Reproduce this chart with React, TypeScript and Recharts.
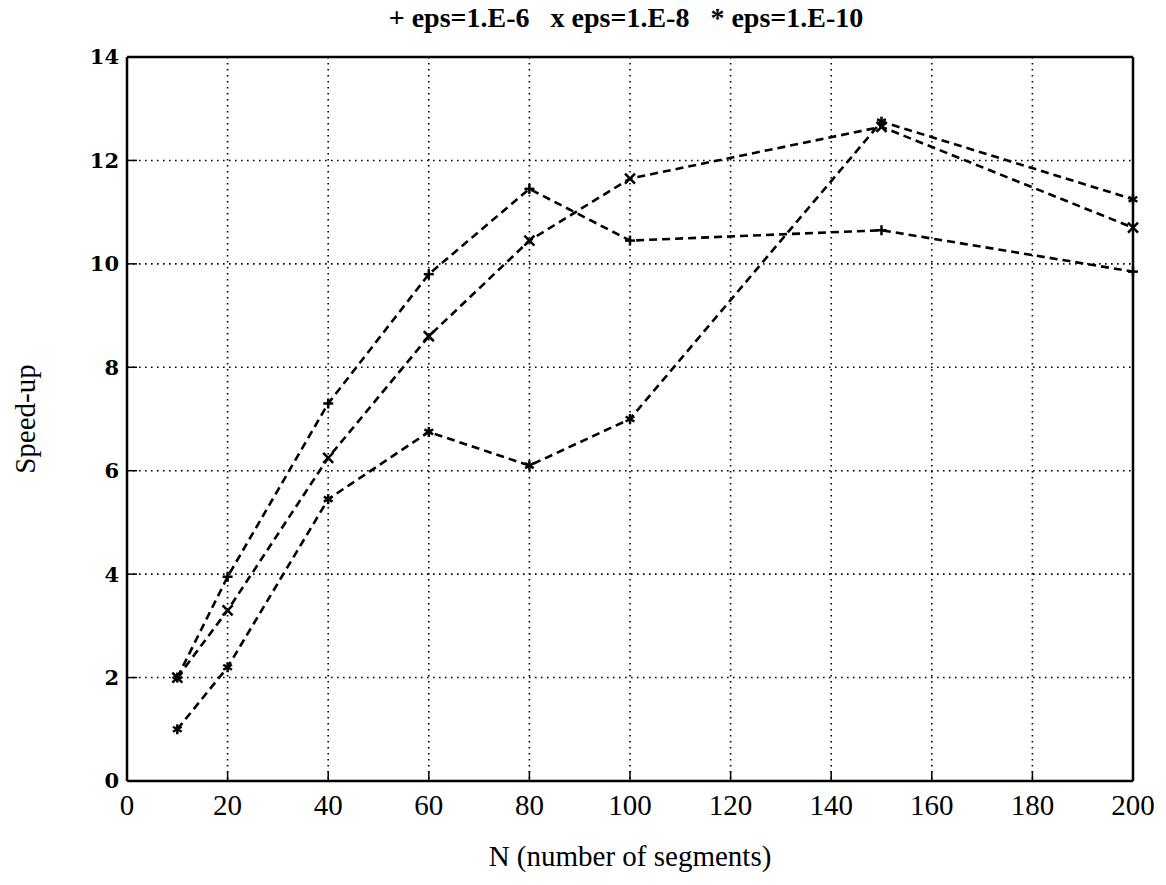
import React from "react";
import {
  LineChart,
  Line,
  XAxis,
  YAxis,
  CartesianGrid,
  Label,
} from "recharts";

// Speed-up vs number of segments for three tolerances.
const SEGMENTS = [10, 20, 40, 60, 80, 100, 150, 200];
const EPS_6 = [2.0, 3.95, 7.3, 9.8, 11.45, 10.45, 10.65, 9.85];
const EPS_8 = [2.0, 3.3, 6.25, 8.6, 10.45, 11.65, 12.65, 10.7];
const EPS_10 = [1.0, 2.2, 5.45, 6.75, 6.1, 7.0, 12.75, 11.25];

const X_TICKS = [0, 20, 40, 60, 80, 100, 120, 140, 160, 180, 200];
const Y_TICKS = [0, 2, 4, 6, 8, 10, 12, 14];

const TITLE = "+ eps=1.E-6   x eps=1.E-8   * eps=1.E-10";

const data = SEGMENTS.map((n, i) => ({
  n,
  e6: EPS_6[i],
  e8: EPS_8[i],
  e10: EPS_10[i],
}));

const SERIF = '"Liberation Serif", "Times New Roman", serif';
const M = 5;

function plusDot(p: any) {
  const { cx, cy, index } = p;
  return (
    <g key={`p${index}`} stroke="#000" strokeWidth={2.5}>
      <line x1={cx - M} y1={cy} x2={cx + M} y2={cy} />
      <line x1={cx} y1={cy - M} x2={cx} y2={cy + M} />
    </g>
  );
}

function crossDot(p: any) {
  const { cx, cy, index } = p;
  return (
    <g key={`x${index}`} stroke="#000" strokeWidth={2.5}>
      <line x1={cx - M} y1={cy - M} x2={cx + M} y2={cy + M} />
      <line x1={cx - M} y1={cy + M} x2={cx + M} y2={cy - M} />
    </g>
  );
}

function starDot(p: any) {
  const { cx, cy, index } = p;
  const d = M * 0.87;
  return (
    <g key={`s${index}`} stroke="#000" strokeWidth={2.5}>
      <line x1={cx} y1={cy - M} x2={cx} y2={cy + M} />
      <line x1={cx - d} y1={cy - M / 2} x2={cx + d} y2={cy + M / 2} />
      <line x1={cx - d} y1={cy + M / 2} x2={cx + d} y2={cy - M / 2} />
    </g>
  );
}

function TitleLabel({ viewBox }: any) {
  return (
    <text
      x={viewBox.x + viewBox.width / 2 - 4}
      y={viewBox.y - 29}
      textAnchor="middle"
      fontFamily={SERIF}
      fontWeight="bold"
      fontSize={28}
      fill="#000"
      xmlSpace="preserve"
      style={{ whiteSpace: "pre" }}
    >
      {TITLE}
    </text>
  );
}

function XTitle({ viewBox }: any) {
  return (
    <text
      x={viewBox.x + viewBox.width / 2}
      y={viewBox.y + 85}
      textAnchor="middle"
      fontFamily={SERIF}
      fontSize={29}
      fill="#000"
    >
      N (number of segments)
    </text>
  );
}

function YTitle({ viewBox }: any) {
  const x = 35;
  const y = viewBox.y + viewBox.height / 2;
  return (
    <text
      x={x}
      y={y}
      transform={`rotate(-90, ${x}, ${y})`}
      textAnchor="middle"
      fontFamily={SERIF}
      fontSize={29}
      fill="#000"
    >
      Speed-up
    </text>
  );
}

const axisLine = { stroke: "#000", strokeWidth: 2.5 };
const tickLine = { stroke: "#000", strokeWidth: 1.5 };

export default function App() {
  return (
    <div style={{ position: "absolute", left: 0, top: 0, background: "#fff" }}>
      <LineChart
        width={1166}
        height={885}
        data={data}
        margin={{ top: 56, right: 32, bottom: 0, left: 0 }}
      >
        <CartesianGrid stroke="#000" strokeWidth={1.6} strokeDasharray="1.6 4.4" />
        <XAxis
          dataKey="n"
          type="number"
          domain={[0, 200]}
          ticks={X_TICKS}
          interval={0}
          height={104}
          tickSize={-10}
          tickMargin={23}
          axisLine={axisLine}
          tickLine={tickLine}
          tick={{ fill: "#000", fontSize: 29, fontFamily: SERIF }}
        >
          <Label content={<XTitle />} />
        </XAxis>
        <XAxis
          xAxisId="top"
          orientation="top"
          type="number"
          domain={[0, 200]}
          ticks={X_TICKS}
          interval={0}
          height={1}
          tickSize={-10}
          axisLine={axisLine}
          tickLine={tickLine}
          tick={false}
        >
          <Label content={<TitleLabel />} />
        </XAxis>
        <YAxis
          type="number"
          domain={[0, 14]}
          ticks={Y_TICKS}
          interval={0}
          width={127}
          tickSize={-10}
          tickMargin={18}
          axisLine={axisLine}
          tickLine={tickLine}
          tick={{
            fill: "#000",
            fontSize: 21,
            fontWeight: "bold",
            fontFamily: '"DejaVu Serif", serif',
          }}
        >
          <Label content={<YTitle />} />
        </YAxis>
        <YAxis
          yAxisId="right"
          orientation="right"
          type="number"
          domain={[0, 14]}
          ticks={Y_TICKS}
          interval={0}
          width={1}
          tickSize={-10}
          axisLine={axisLine}
          tickLine={tickLine}
          tick={false}
        />
        <Line
          dataKey="e6"
          stroke="#000"
          strokeWidth={2.6}
          strokeDasharray="8 5"
          dot={plusDot}
          isAnimationActive={false}
        />
        <Line
          dataKey="e8"
          stroke="#000"
          strokeWidth={2.6}
          strokeDasharray="8 5"
          dot={crossDot}
          isAnimationActive={false}
        />
        <Line
          dataKey="e10"
          stroke="#000"
          strokeWidth={2.6}
          strokeDasharray="8 5"
          dot={starDot}
          isAnimationActive={false}
        />
      </LineChart>
    </div>
  );
}
